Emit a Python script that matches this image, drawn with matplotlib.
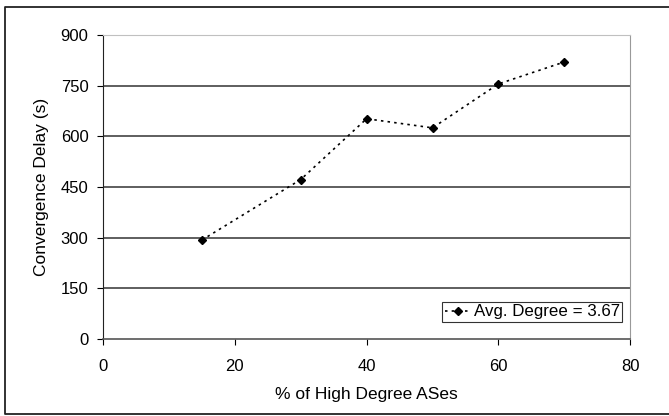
import matplotlib.pyplot as plt
from matplotlib.lines import Line2D

plt.rcParams['font.family'] = ['Liberation Sans', 'DejaVu Sans']

pct_high = [15, 30, 40, 50, 60, 70]
delay = [293, 472, 652, 625, 755, 820]
yticks = [0, 150, 300, 450, 600, 750, 900]
xticks = [0, 20, 40, 60, 80]

fig = plt.figure(figsize=(6.69, 4.16), dpi=100)
ax = fig.add_axes([0.154, 0.185, 0.788, 0.731])

# frame around the picture (right side is cut off in the original)
x0, x1, y0, y1 = 0.008, 1.01, 0.006, 0.983
fig.lines.append(Line2D([x1, x0, x0, x1], [y1, y1, y0, y0], transform=fig.transFigure,
                        color='#222222', linewidth=1.3))

ax.plot(pct_high, delay, linestyle=(0, (1.5, 2.5)), color='black', linewidth=1.2,
        marker='D', markersize=4.5, markerfacecolor='black', label='Avg. Degree = 3.67')

ax.set_xlim(0, 80)
ax.set_ylim(0, 900)
ax.set_xticks(xticks)
ax.set_yticks(yticks)
for y in yticks[1:-1]:
    ax.axhline(y, color='#333333', linewidth=1.1, zorder=0)

ax.spines['top'].set_color('#c0c0c0')
ax.spines['right'].set_color('#999999')
ax.spines['left'].set_color('#222222')
ax.spines['bottom'].set_color('#555555')
ax.spines['bottom'].set_linewidth(1.2)
ax.tick_params(direction='out', length=4.5, width=0.8, labelsize=12)
ax.tick_params(axis='y', pad=6)
ax.tick_params(axis='x', pad=10)

ax.set_xlabel('% of High Degree ASes', fontsize=12.5, labelpad=9)
ax.set_ylabel('Convergence Delay (s)', fontsize=12.5, labelpad=8)

leg = ax.legend(loc='lower right', bbox_to_anchor=(0.985, 0.056), borderaxespad=0,
                fontsize=12.2, frameon=True, fancybox=False, edgecolor='black',
                handlelength=1.5, borderpad=0.15, handletextpad=0.2)
leg.get_frame().set_linewidth(0.8)

fig.savefig('out.png', dpi=100)
